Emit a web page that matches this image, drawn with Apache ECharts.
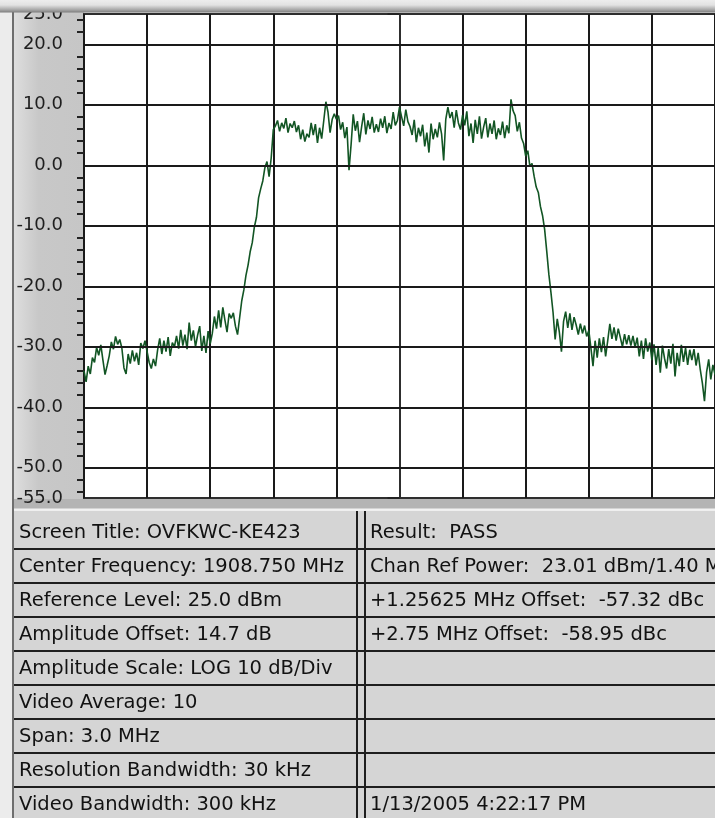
<!DOCTYPE html>
<html>
<head>
<meta charset="utf-8">
<title>Spectrum trace</title>
<script src="https://cdn.jsdelivr.net/npm/echarts@6.0.0/dist/echarts.min.js"></script>
<style>
html, body { margin: 0; padding: 0; background: #ececec; }
#chart { width: 715px; height: 818px; }
</style>
</head>
<body>
<div id="chart"></div>
<script>
// frequency offset from centre (1908.750 MHz), kHz
var freqStart = -1500;
var freqStep = 10;

// trace, dB, one value per 10 kHz bin
var floorLeft = [
	-34.0, -35.8, -33.2, -34.5, -31.8, -32.6, -30.1, -31.4, -29.7, -32.2,
	-34.6, -33.1, -31.5, -29.2, -30.4, -28.3, -29.6, -28.8, -30.2, -33.5,
	-34.5, -31.2, -32.8, -30.6, -32.4, -31.0, -33.0, -29.4, -30.3, -29.0,
	-30.8, -32.6, -33.6, -32.0, -33.2, -30.5, -28.6, -31.2, -29.0, -30.8,
	-28.4, -31.5, -29.3, -30.0, -28.2, -30.3, -27.2, -29.8, -28.0, -30.4,
	-26.0, -29.0, -27.3, -30.0, -28.1, -26.6, -30.7, -28.2, -31.0, -27.4,
	-29.5, -27.8, -25.0, -27.0, -24.0, -26.8, -23.5, -25.6, -27.6, -24.5,
	-25.3, -24.4, -26.6, -28.0
];
var edgeLeft = [
	-25.2, -22.4, -20.6, -18.2, -16.5, -14.3, -12.8, -10.2, -8.6, -5.4,
	-3.9, -2.6, -0.4, 0.6, -1.9, 1.2
];
var plateau = [
	5.9, 6.5, 7.4, 5.6, 7.0, 6.1, 7.8, 5.4, 6.9, 6.2,
	7.3, 5.5, 6.6, 4.3, 5.9, 3.9, 5.2, 4.6, 7.0, 5.0,
	6.8, 3.7, 6.2, 4.4, 7.4, 10.5, 8.8, 5.4, 7.6, 8.5,
	7.6, 8.2, 5.9, 7.1, 4.5, 6.3, -0.8, 3.5, 8.4, 5.7,
	7.3, 3.8, 6.4, 8.6, 5.1, 7.4, 6.0, 8.0, 5.4, 6.8,
	5.5, 7.7, 6.2, 8.1, 5.3, 7.0, 6.0, 8.8, 6.6, 7.4,
	9.6, 8.0, 6.5, 9.2, 7.2, 6.4, 5.0, 7.5, 3.8, 6.2,
	4.8, 6.7, 3.1, 5.4, 2.1, 6.9, 4.3, 6.0, 4.6, 7.1,
	5.2, 0.8, 7.6, 9.6, 7.8, 8.8, 6.2, 9.1, 7.0, 5.9,
	8.3, 6.6, 8.9, 4.8, 6.9, 3.7, 7.5, 5.2, 8.1, 4.4,
	6.3, 7.8, 4.6, 6.9, 5.2, 7.4, 4.3, 6.1, 5.0, 7.2,
	4.5, 6.6, 5.3, 10.9, 9.0, 8.2, 5.6, 7.1, 4.5, 3.6
];
var edgeRight = [
	1.5, 2.4, -0.2, 0.3, -1.8, -3.6, -4.5, -6.8, -8.3, -10.6,
	-14.2, -18.0, -21.0, -24.3, -28.8
];
var floorRight = [
	-25.4, -27.6, -30.8, -25.8, -24.2,
	-26.9, -24.5, -27.2, -25.1, -26.4, -28.0, -26.2, -27.8, -26.5, -28.3,
	-27.3, -30.2, -33.2, -29.0, -31.8, -28.6, -30.9, -28.4, -31.6, -29.0,
	-26.2, -28.7, -26.8, -29.0, -27.0, -28.5, -30.0, -27.9, -29.6, -28.1,
	-29.8, -28.2, -30.1, -28.5, -31.6, -29.0, -32.0, -28.6, -30.8, -29.3,
	-32.2, -29.6, -33.0, -30.2, -34.3, -29.8, -31.9, -33.6, -30.4, -32.8,
	-29.5, -34.9, -31.0, -33.2, -29.7, -32.5, -30.2, -33.0, -30.5, -32.2,
	-30.4, -33.1, -31.0, -33.8, -36.0, -39.0, -34.2, -32.1, -35.4, -33.0, -34.6
];

// axis
var yLabels = [25, 20, 10, 0, -10, -20, -30, -40, -50, -55];
var yMinorTicks = [24, 22, 18, 16, 14, 12, 8, 6, 4, 2, -2, -4, -6, -8,
	-12, -14, -16, -18, -22, -24, -26, -28, -32, -34, -36, -38,
	-42, -44, -46, -48, -52, -54];
var gridLevels = [20, 10, 0, -10, -20, -30, -40, -50];

// info table
var leftColumn = [
	'Screen Title: OVFKWC-KE423',
	'Center Frequency: 1908.750 MHz',
	'Reference Level: 25.0 dBm',
	'Amplitude Offset: 14.7 dB',
	'Amplitude Scale: LOG 10 dB/Div',
	'Video Average: 10',
	'Span: 3.0 MHz',
	'Resolution Bandwidth: 30 kHz',
	'Video Bandwidth: 300 kHz'
];
var rightColumn = [
	'Result:  PASS',
	'Chan Ref Power:  23.01 dBm/1.40 MHz',
	'+1.25625 MHz Offset:  -57.32 dBc',
	'+2.75 MHz Offset:  -58.95 dBc',
	'', '', '', '',
	'1/13/2005 4:22:17 PM'
];

var trace = floorLeft.concat(edgeLeft, plateau, edgeRight, floorRight);
var seriesData = trace.map(function(v, i) {
	return [freqStart + i * freqStep, v];
});

var FONT = '"DejaVu Sans", Verdana, sans-serif';

function buildTable() {
	var g = [];
	var top = 511, firstBottom = 549, rowH = 34;
	g.push({ type: 'rect', z: -5, silent: true,
		shape: { x: 14, y: top, width: 701, height: 818 - top },
		style: { fill: '#d5d5d5' } });
	// band under plot
	g.push({ type: 'rect', z: -5, silent: true,
		shape: { x: 14, y: 499, width: 701, height: 10 },
		style: { fill: '#b4b4b4' } });
	g.push({ type: 'line', z: -4, silent: true,
		shape: { x1: 14, y1: 509.5, x2: 715, y2: 509.5 },
		style: { stroke: '#f2f2f2', lineWidth: 2 } });
	for (var k = 0; k < 8; k++) {
		var yy = firstBottom + k * rowH;
		g.push({ type: 'line', z: 5, silent: true,
			shape: { x1: 14, y1: yy, x2: 715, y2: yy },
			style: { stroke: '#1e1e1e', lineWidth: 2 } });
	}
	[357, 365].forEach(function(x) {
		g.push({ type: 'line', z: 5, silent: true,
			shape: { x1: x, y1: top, x2: x, y2: 818 },
			style: { stroke: '#1e1e1e', lineWidth: 2 } });
	});
	for (var r = 0; r < leftColumn.length; r++) {
		var cy = r === 0 ? 532.5 : firstBottom + (r - 1) * rowH + 17.5;
		g.push({ type: 'text', z: 6, silent: true,
			style: { x: 19, y: cy, text: leftColumn[r], fill: '#121212',
				font: '19.5px ' + FONT, verticalAlign: 'middle', align: 'left' } });
		if (rightColumn[r]) {
			g.push({ type: 'text', z: 6, silent: true,
				style: { x: 370, y: cy, text: rightColumn[r], fill: '#121212',
					font: '19.5px ' + FONT, verticalAlign: 'middle', align: 'left' } });
		}
	}
	return g;
}

var frame = [
	// axis panel
	{ type: 'rect', z: -6, silent: true,
		shape: { x: 14, y: 8, width: 70, height: 492 },
		style: { fill: new echarts.graphic.LinearGradient(0, 0, 1, 0, [
			{ offset: 0, color: '#dedede' },
			{ offset: 0.35, color: '#c8c8c8' },
			{ offset: 1, color: '#c6c6c6' }
		]) } },
	// top bevel
	{ type: 'rect', z: 50, silent: true,
		shape: { x: 0, y: 0, width: 715, height: 12.5 },
		style: { fill: new echarts.graphic.LinearGradient(0, 0, 0, 1, [
			{ offset: 0, color: '#ededed' },
			{ offset: 0.4, color: '#e2e2e2' },
			{ offset: 0.8, color: '#a4a4a4' },
			{ offset: 1, color: '#7c7c7c' }
		]) } },
	{ type: 'line', z: 40, silent: true,
		shape: { x1: 13, y1: 10, x2: 13, y2: 818 },
		style: { stroke: '#6e6e6e', lineWidth: 2 } }
];

var chart = echarts.init(document.getElementById('chart'), null, { renderer: 'canvas' });
chart.setOption({
	animation: false,
	backgroundColor: '#ececec',
	grid: {
		left: 84, top: 14, right: -2, bottom: 320,
		show: true, backgroundColor: '#ffffff',
		borderColor: '#2e2e2e', borderWidth: 2
	},
	xAxis: {
		type: 'value', min: -1500, max: 1500, interval: 300,
		axisLine: { show: false }, axisTick: { show: false },
		axisLabel: { show: false },
		splitLine: { show: true, lineStyle: { color: '#1a1a1a', width: 2 } }
	},
	yAxis: [{
		type: 'value', min: -55, max: 25, position: 'left',
		axisLine: { show: true, lineStyle: { color: '#2e2e2e', width: 2 } },
		axisTick: { show: true, length: 12, customValues: yLabels,
			lineStyle: { color: '#222', width: 2 } },
		axisLabel: { customValues: yLabels, margin: 21, color: '#1e1e1e',
			fontFamily: FONT, fontSize: 18,
			formatter: function(v) { return v.toFixed(1); } },
		splitLine: { show: false }
	}, {
		type: 'value', min: -55, max: 25, position: 'left',
		axisLine: { show: false },
		axisTick: { show: true, length: 7, customValues: yMinorTicks,
			lineStyle: { color: '#222', width: 2 } },
		axisLabel: { show: false },
		splitLine: { show: false }
	}],
	series: [{
		// horizontal divisions
		type: 'line', data: [], z: 1, silent: true,
		markLine: {
			silent: true, symbol: 'none', label: { show: false },
			lineStyle: { color: '#1a1a1a', width: 2, type: 'solid' },
			data: gridLevels.map(function(v) { return { yAxis: v }; })
		}
	}, {
		type: 'line', data: seriesData, z: 3,
		showSymbol: false, symbol: 'none', smooth: false,
		lineStyle: { color: '#125524', width: 1.6 }
	}],
	graphic: frame.concat(buildTable())
});
</script>
</body>
</html>
